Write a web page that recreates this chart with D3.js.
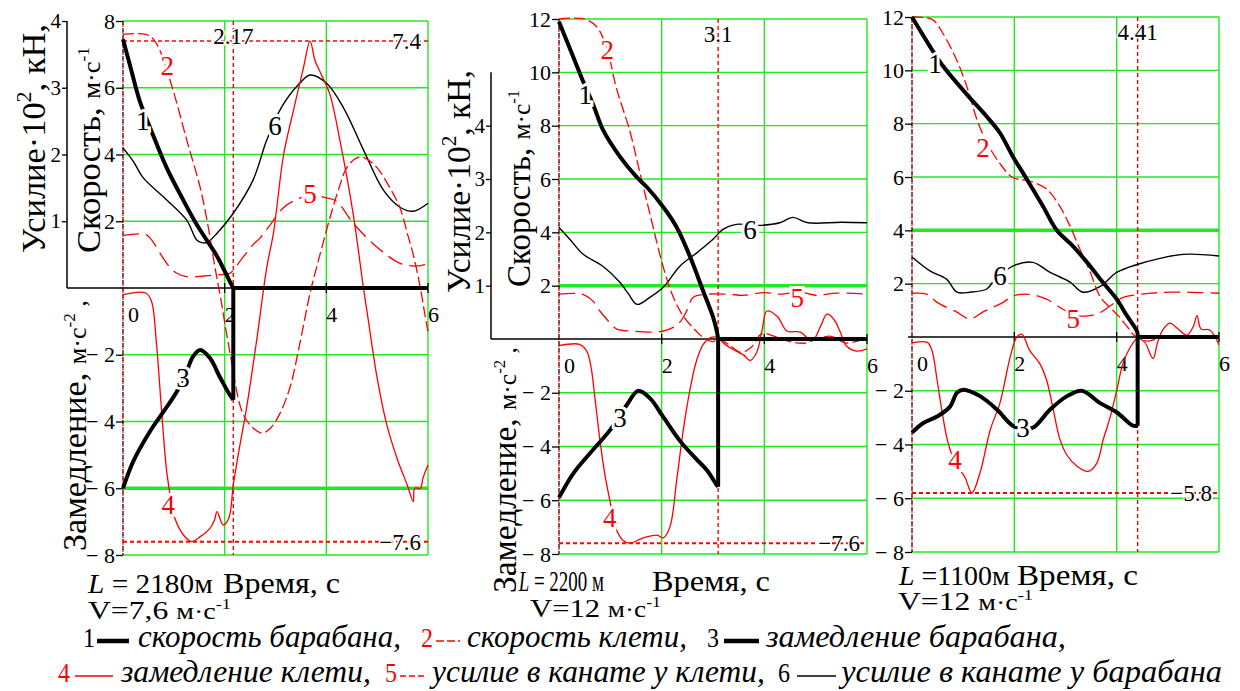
<!DOCTYPE html>
<html>
<head>
<meta charset="utf-8">
<script src="https://cdn.jsdelivr.net/npm/d3@7"></script>
<style>
  html, body { margin: 0; padding: 0; background: #fff; }
  svg { display: block; font-family: "Liberation Serif", "Times New Roman", serif; }
</style>
</head>
<body>
<svg id="chart" width="1240" height="691"></svg>
<script>
// ---------- shared ticks ----------
const timeTicks = [2, 4, 6];
const timeLabels = [0, 2, 4, 6];
const forceTicks = [1, 2, 3, 4];
const speedTicks1 = [-8, -6, -4, -2, 2, 4, 6, 8];
const speedTicks2 = [-8, -6, -4, -2, 2, 4, 6, 8, 10, 12];

// ---------- plot 1: L = 2180 m, V = 7.6 m/s ----------
// [time s, value]; speeds m/s, decelerations m/s², forces ×10² kN
const drumSpeed1 = [[0,7.45],[0.15,6.6],[0.33,5.6],[0.56,4.7],[0.86,3.6],[1.18,2.65],[1.45,1.9],[1.64,1.45],[1.85,0.95],[1.97,0.6],[2.1,0.2],[2.17,0],[6,0]];
const cageSpeed1 = [[0,7.6],[0.45,7.6],[0.6,7.45],[0.73,7.1],[0.99,5.9],[1.26,4.4],[1.52,3.0],[1.68,1.8],[1.8,0.7],[1.92,-0.3],[2.1,-1.9],[2.34,-3.7],[2.5,-4.1],[2.73,-4.35],[2.9,-4.2],[3.09,-3.75],[3.29,-2.95],[3.48,-1.65],[3.68,-0.15],[3.81,0.63],[3.91,1.2],[4.07,2.1],[4.25,3.0],[4.4,3.6],[4.6,3.9],[4.75,3.9],[5.0,3.6],[5.25,3.0],[5.45,2.4],[5.6,1.6],[5.71,1.0],[5.85,0.0],[5.95,-0.9],[6.0,-1.3]];
const drumDecel1 = [[0,-6.0],[0.2,-5.2],[0.53,-4.3],[0.8,-3.7],[1.06,-3.1],[1.25,-2.5],[1.38,-2.05],[1.52,-1.86],[1.71,-2.1],[1.9,-2.65],[2.1,-3.2],[2.17,-3.35],[2.17,0],[6,0]];
const cageDecel1 = [[0,-0.2],[0.45,-0.15],[0.56,-0.4],[0.66,-1.7],[0.76,-3.7],[0.86,-5.5],[0.95,-6.4],[1.02,-6.9],[1.19,-7.4],[1.35,-7.6],[1.52,-7.45],[1.71,-7.2],[1.8,-6.95],[1.85,-6.7],[1.97,-7.1],[2.08,-6.9],[2.17,-5.9],[2.26,-5.05],[2.43,-3.6],[2.63,-1.56],[2.83,0.63],[2.96,1.65],[3.16,4.0],[3.35,5.3],[3.55,6.6],[3.68,7.4],[3.78,6.8],[3.9,6.4],[4.07,5.8],[4.27,4.4],[4.53,2.2],[4.73,0],[4.8,-0.7],[5.0,-2.7],[5.19,-4.1],[5.39,-5.1],[5.59,-5.9],[5.71,-6.4],[5.74,-6.0],[5.85,-6.0],[5.9,-5.7],[6.0,-5.3]];
const cageRope1 = [[0,0.79],[0.45,0.8],[0.6,0.68],[0.73,0.52],[0.9,0.33],[1.06,0.22],[1.25,0.17],[1.6,0.18],[1.9,0.2],[2.1,0.22],[2.3,0.4],[2.56,0.65],[2.7,0.75],[2.9,0.95],[3.15,1.2],[3.4,1.32],[3.68,1.39],[4.0,1.35],[4.2,1.3],[4.53,0.97],[5.0,0.61],[5.45,0.37],[5.8,0.33],[6.0,0.37]];
const drumRope1 = [[0,2.1],[0.2,1.9],[0.4,1.65],[0.86,1.32],[1.25,1.02],[1.45,0.72],[1.55,0.68],[1.65,0.68],[1.85,0.82],[2.17,1.12],[2.56,1.62],[2.83,2.22],[3.12,2.71],[3.48,3.07],[3.68,3.19],[4.0,3.07],[4.33,2.71],[4.73,2.07],[5.12,1.47],[5.45,1.21],[5.71,1.15],[6.0,1.27]];
const stopTime1 = 2.17;
const extremes1 = [7.4, -7.6];

// ---------- plot 2: L = 2200 m, V = 12 m/s ----------
const drumSpeed2 = [[0,11.9],[0.21,10.9],[0.44,9.8],[0.67,8.77],[0.86,7.83],[1.19,6.83],[1.51,6.08],[1.71,5.7],[2.03,4.95],[2.29,4.2],[2.55,3.1],[2.8,1.84],[3.0,0.83],[3.08,0.24],[3.1,0],[6,0]];
const cageSpeed2 = [[0,12],[0.5,12],[0.74,11.7],[0.93,10.9],[1.12,9.4],[1.38,7.8],[1.58,6.2],[1.77,4.7],[2.03,2.7],[2.22,1.6],[2.42,0.86],[2.69,0.26],[2.85,0.0],[3.0,-0.1],[3.1,0.0],[3.3,-0.2],[3.55,-0.5],[3.75,-0.3],[3.95,0.2],[4.2,0.1],[4.5,-0.1],[4.8,-0.15],[5.0,0.0],[5.3,0.1],[5.6,-0.15],[6,0.05]];
const drumDecel2 = [[0,-5.9],[0.28,-5.0],[0.6,-4.26],[0.99,-3.4],[1.2,-2.8],[1.34,-2.4],[1.54,-1.93],[1.77,-2.2],[2.03,-2.9],[2.36,-3.8],[2.69,-4.5],[2.89,-4.9],[3.06,-5.4],[3.1,-5.5],[3.1,0],[6,0]];
const cageDecel2 = [[0,-0.25],[0.4,-0.2],[0.54,-0.45],[0.62,-1.0],[0.7,-2.2],[0.8,-3.8],[0.89,-5.0],[0.99,-6.0],[1.12,-7.1],[1.25,-7.5],[1.38,-7.6],[1.64,-7.4],[1.91,-7.3],[2.03,-7.4],[2.16,-7.0],[2.29,-5.3],[2.42,-3.4],[2.55,-1.9],[2.68,-0.8],[2.81,-0.2],[2.95,0.05],[3.1,0.05],[3.2,-0.15],[3.4,-0.4],[3.6,-0.6],[3.72,-0.8],[3.85,-0.5],[3.96,0.37],[4.05,1.05],[4.25,0.85],[4.44,0.3],[4.7,0.26],[4.93,-0.07],[5.1,0.5],[5.22,0.93],[5.35,0.75],[5.48,0.26],[5.6,-0.26],[5.8,-0.45],[6.0,-0.37]];
const cageRope2 = [[0,0.84],[0.45,0.84],[0.66,0.71],[0.8,0.52],[0.93,0.37],[1.12,0.19],[1.38,0.15],[2.03,0.15],[2.32,0.28],[2.5,0.55],[2.61,0.78],[2.88,0.84],[3.3,0.84],[3.6,0.82],[4.0,0.87],[4.3,0.84],[4.7,0.88],[5.0,0.82],[5.4,0.86],[6.0,0.84]];
const drumRope2 = [[0,2.09],[0.21,1.87],[0.47,1.59],[0.86,1.36],[1.19,1.06],[1.35,0.85],[1.52,0.65],[1.77,0.78],[2.03,0.97],[2.36,1.37],[2.69,1.62],[3.0,1.87],[3.2,2.06],[3.45,2.15],[3.9,2.13],[4.3,2.18],[4.55,2.28],[4.85,2.18],[5.5,2.19],[6.0,2.18]];
const stopTime2 = 3.1;
const extremes2 = [-7.6];

// ---------- plot 3: L = 1100 m, V = 12 m/s ----------
const drumSpeed3 = [[0,12],[0.35,10.9],[0.59,10.2],[1.07,9.1],[1.46,8.27],[1.72,7.65],[1.97,6.77],[2.25,5.9],[2.56,4.9],[2.83,4.0],[3.15,3.4],[3.42,2.8],[3.73,2.05],[4.0,1.42],[4.2,0.8],[4.4,0.2],[4.41,0],[6,0]];
const cageSpeed3 = [[0,12],[0.4,11.9],[0.6,11.4],[0.87,10.4],[1.07,9.4],[1.27,8.15],[1.46,7.3],[1.72,6.5],[1.97,5.98],[2.3,5.85],[2.63,5.55],[2.89,4.9],[3.09,4.15],[3.28,3.3],[3.48,2.45],[3.68,1.5],[3.87,1.1],[4.03,0.8],[4.2,0.4],[4.35,0.05],[4.6,-0.15],[4.9,0.0],[5.2,0.05],[5.5,0.0],[6,0.0]];
const drumDecel3 = [[0,-3.56],[0.22,-3.2],[0.49,-2.96],[0.74,-2.6],[0.88,-2.07],[1.0,-1.96],[1.33,-2.2],[1.66,-2.7],[1.97,-3.3],[2.2,-3.4],[2.37,-3.37],[2.7,-2.7],[3.03,-2.2],[3.32,-2.0],[3.67,-2.45],[4.0,-2.8],[4.32,-3.3],[4.41,-3.3],[4.41,0],[6,0]];
const cageDecel3 = [[0,-0.22],[0.3,-0.2],[0.39,-0.5],[0.49,-1.6],[0.59,-2.8],[0.7,-3.9],[0.85,-4.7],[1.03,-5.2],[1.17,-5.8],[1.33,-5.05],[1.53,-3.45],[1.72,-2.45],[1.92,-0.74],[2.05,0.0],[2.15,0.1],[2.3,-0.5],[2.5,-1.0],[2.63,-1.6],[2.75,-2.6],[2.89,-3.8],[3.03,-4.4],[3.22,-4.8],[3.44,-5.0],[3.61,-4.7],[3.74,-3.8],[3.87,-3.0],[4.0,-2.0],[4.12,-1.0],[4.26,-0.4],[4.41,-0.05],[4.55,-0.2],[4.71,-0.8],[4.8,-0.2],[4.9,0.26],[5.04,0.52],[5.2,0.3],[5.37,0.07],[5.5,0.4],[5.57,0.8],[5.65,0.3],[5.82,0.26],[6.0,-0.3]];
const cageRope3 = [[0,0.82],[0.3,0.8],[0.49,0.65],[0.87,0.47],[1.13,0.34],[1.39,0.47],[1.78,0.65],[1.97,0.77],[2.3,0.8],[2.63,0.71],[2.95,0.52],[3.22,0.4],[3.61,0.43],[3.87,0.58],[4.12,0.74],[4.46,0.8],[5.04,0.84],[6.0,0.82]];
const drumRope3 = [[0,1.5],[0.35,1.24],[0.68,1.08],[0.88,0.84],[1.13,0.84],[1.46,0.9],[1.6,1.05],[1.97,1.33],[2.36,1.4],[2.7,1.21],[3.09,1.03],[3.34,0.84],[3.68,0.95],[4.0,1.21],[4.4,1.36],[4.79,1.46],[5.3,1.55],[6.0,1.52]];
const stopTime3 = 4.41;
const extremes3 = [-5.8];

// curve number tags: [number, time, value]
const tags1 = [["1",0.39,5.03],["2",0.87,6.68],["6",2.99,4.88],["5",3.68,2.84],["3",1.18,-2.69],["4",0.89,-6.5]];
const tags2 = [["1",0.51,9.15],["2",0.94,10.84],["6",3.72,4.09],["5",4.64,1.54],["3",1.19,-2.94],["4",0.99,-6.65]];
const tags3 = [["1",0.45,10.27],["2",1.39,7.12],["6",1.72,2.32],["5",3.15,0.71],["3",2.17,-3.38],["4",0.84,-4.57]];

// ---------- styling ----------
const GREEN = "#22e822";
const RED = "#ff0000";
const MINUS = "\u2212";

const svg = d3.select("#chart");

const panels = [
  { xRange: [123, 428], yDomain: [-8, 0, 8], yRange: [555, 288, 21], speedTicks: speedTicks1,
    thickLevel: -6, forceX: 67, forceTop: 4, baseStart: 67,
    series: { drumSpeed: drumSpeed1, cageSpeed: cageSpeed1, drumDecel: drumDecel1, cageDecel: cageDecel1, cageRope: cageRope1, drumRope: drumRope1 },
    stop: stopTime1, extremes: extremes1, tags: tags1 },
  { xRange: [559, 867], yDomain: [-8, 0, 12], yRange: [554, 339, 19], speedTicks: speedTicks2,
    thickLevel: 2, forceX: 491, forceTop: 5, baseStart: 491,
    series: { drumSpeed: drumSpeed2, cageSpeed: cageSpeed2, drumDecel: drumDecel2, cageDecel: cageDecel2, cageRope: cageRope2, drumRope: drumRope2 },
    stop: stopTime2, extremes: extremes2, tags: tags2 },
  { xRange: [912, 1219], yDomain: [-8, 0, 12], yRange: [552, 337, 17], speedTicks: speedTicks2,
    thickLevel: 4, forceX: null, forceTop: null, baseStart: 908,
    series: { drumSpeed: drumSpeed3, cageSpeed: cageSpeed3, drumDecel: drumDecel3, cageDecel: cageDecel3, cageRope: cageRope3, drumRope: drumRope3 },
    stop: stopTime3, extremes: extremes3, tags: tags3 }
];

const fmtSigned = d => d < 0 ? MINUS + " " + (-d) : String(d);
const fmtMark = d => d < 0 ? MINUS + (-d) : String(d);

// Split a drum series into its smooth braking part and the straight
// part after the drum has stopped (a possible jump plus the flat zero tail).
function splitAtStop(data) {
  let k = data.length - 1;
  while (k > 0 && data[k - 1][1] === 0) k--;
  if (k > 0 && data[k - 1][0] === data[k][0]) {
    return [data.slice(0, k), data.slice(k - 1)];
  }
  return [data.slice(0, k + 1), data.slice(k)];
}

function drawPanel(cfg) {
  const g = svg.append("g");
  const x = d3.scaleLinear().domain([0, 6]).range(cfg.xRange);
  const y = d3.scaleLinear().domain(cfg.yDomain).range(cfg.yRange);
  const vMax = cfg.yDomain[2];
  // rope forces (×10² kN) are plotted against the speed scale at 1 : 2
  const yF = d3.scaleLinear().domain([0, vMax / 2]).range([y(0), y(vMax)]);
  const x0 = x(0), x6 = x(6), yTop = y(vMax), yBot = y(-8);

  // green grid
  g.selectAll("line.hgrid").data(cfg.speedTicks).join("line")
    .attr("x1", x0).attr("x2", x6).attr("y1", d => y(d)).attr("y2", d => y(d))
    .attr("stroke", GREEN).attr("stroke-width", d => d === cfg.thickLevel ? 3.5 : 1.4);
  g.selectAll("line.vgrid").data(timeTicks).join("line")
    .attr("x1", d => x(d)).attr("x2", d => x(d)).attr("y1", yTop).attr("y2", yBot)
    .attr("stroke", GREEN).attr("stroke-width", 1.4);

  // left border: t = 0 marker
  g.append("line").attr("x1", x0).attr("x2", x0).attr("y1", yTop).attr("y2", yBot)
    .attr("stroke", "#000").attr("stroke-width", 1.2).attr("stroke-dasharray", "4,3");
  g.append("line").attr("x1", x0).attr("x2", x0).attr("y1", yTop).attr("y2", yBot)
    .attr("stroke", RED).attr("stroke-width", 1.2).attr("stroke-dasharray", "3,4").attr("stroke-dashoffset", 4);

  // red markers: stop time and extreme values
  g.append("line").attr("x1", x(cfg.stop)).attr("x2", x(cfg.stop)).attr("y1", yTop).attr("y2", yBot)
    .attr("stroke", RED).attr("stroke-width", 1.4).attr("stroke-dasharray", "4,3");
  g.selectAll("line.ext").data(cfg.extremes).join("line")
    .attr("x1", x0).attr("x2", x6).attr("y1", d => y(d)).attr("y2", d => y(d))
    .attr("stroke", RED).attr("stroke-width", d => d < 0 ? 2 : 1.4).attr("stroke-dasharray", "4,3");

  // zero line with small time ticks, and force axis
  g.append("line").attr("x1", cfg.baseStart).attr("x2", x6).attr("y1", y(0)).attr("y2", y(0))
    .attr("stroke", "#000").attr("stroke-width", 1.5);
  g.selectAll("line.tt").data(timeTicks).join("line")
    .attr("x1", d => x(d)).attr("x2", d => x(d)).attr("y1", y(0) - 5).attr("y2", y(0) + 5)
    .attr("stroke", "#000").attr("stroke-width", 1.3);

  if (cfg.forceX !== null) {
    g.append("line").attr("x1", cfg.forceX).attr("x2", cfg.forceX)
      .attr("y1", yF(cfg.forceTop)).attr("y2", y(0))
      .attr("stroke", "#000").attr("stroke-width", 1.5);
    const fa = g.append("g").attr("transform", `translate(${cfg.forceX},0)`)
      .call(d3.axisLeft(yF).tickValues(forceTicks).tickSize(5).tickPadding(1).tickFormat(d3.format("d")));
    fa.select(".domain").remove();
    fa.selectAll("line").attr("stroke", "#000").attr("stroke-width", 1.3);
    fa.selectAll("text").attr("font-size", 21).attr("fill", "#000")
      .attr("font-family", "Liberation Serif");
  }

  // speed / deceleration axis
  const va = g.append("g").attr("transform", `translate(${x0},0)`)
    .call(d3.axisLeft(y).tickValues(cfg.speedTicks).tickSize(7).tickPadding(1).tickFormat(fmtSigned));
  va.select(".domain").remove();
  va.selectAll("line").attr("stroke", "#000").attr("stroke-width", 1.3);
  va.selectAll("text").attr("font-size", 22).attr("fill", "#000")
    .attr("font-family", "Liberation Serif");

  // time labels under the zero line
  g.selectAll("text.tl").data(timeLabels).join("text")
    .attr("x", d => x(d) + (d === 0 ? 5 : 0)).attr("y", y(0) + 34)
    .attr("font-size", 22).text(d => d);

  // curves
  const smooth = d3.curveCatmullRom.alpha(0.5);
  const lineV = d3.line().x(d => x(d[0])).y(d => y(d[1])).curve(smooth);
  const lineF = d3.line().x(d => x(d[0])).y(d => yF(d[1])).curve(smooth);
  const lineStraight = d3.line().x(d => x(d[0])).y(d => y(d[1]));
  const s = cfg.series;
  const draw = (data, gen, color, width, dash) => g.append("path").datum(data)
    .attr("d", gen).attr("fill", "none").attr("stroke", color).attr("stroke-width", width)
    .attr("stroke-dasharray", dash).attr("stroke-linejoin", "round");
  draw(s.cageRope, lineF, RED, 1.3, "16,7");
  draw(s.drumRope, lineF, "#000", 1.4, null);
  draw(s.cageSpeed, lineV, RED, 1.3, "11,4");
  draw(s.cageDecel, lineV, RED, 1.3, null);
  [s.drumSpeed, s.drumDecel].forEach(series => {
    const [braking, stopped] = splitAtStop(series);
    draw(braking, lineV, "#000", 4, null);
    draw(stopped, lineStraight, "#000", 4, null);
  });

  // curve number tags with a white halo
  g.selectAll("text.tag").data(cfg.tags).join("text")
    .attr("x", d => x(d[1])).attr("y", d => y(d[2])).attr("dy", "0.35em")
    .attr("text-anchor", "middle").attr("font-size", 27)
    .attr("fill", d => ["2", "4", "5"].includes(d[0]) ? RED : "#000")
    .attr("stroke", "#fff").attr("stroke-width", 6).attr("paint-order", "stroke")
    .text(d => d[0]);

  // marker value labels
  g.append("text").attr("x", x(cfg.stop)).attr("y", yTop + 23).attr("text-anchor", "middle")
    .attr("font-size", 23).attr("stroke", "#fff").attr("stroke-width", 3).attr("paint-order", "stroke")
    .text(cfg.stop);
  g.selectAll("text.ev").data(cfg.extremes).join("text")
    .attr("x", x6 - 7).attr("y", d => y(d) + 8).attr("text-anchor", "end")
    .attr("font-size", 23).attr("stroke", "#fff").attr("stroke-width", 3).attr("paint-order", "stroke")
    .text(fmtMark);
}

panels.forEach(drawPanel);

// ---------- text helpers ----------
function addParts(text, parts) {
  parts.forEach(p => {
    const t = text.append("tspan").attr("font-size", p.size).text(p.t);
    if (p.dy) t.attr("dy", p.dy);
    if (p.italic) t.attr("font-style", "italic");
    if (p.fill) t.attr("fill", p.fill);
  });
}
// horizontal text squeezed or stretched to span [xa, xb] on baseline yb
function hText(parts, xa, xb, yb, opts = {}) {
  const g = svg.append("g");
  const t = g.append("text").attr("x", 0).attr("y", 0);
  if (opts.italic) t.attr("font-style", "italic");
  if (opts.fill) t.attr("fill", opts.fill);
  addParts(t, parts);
  const bb = t.node().getBBox();
  const sx = (xb - xa) / bb.width;
  g.attr("transform", `translate(${xa - bb.x * sx},${yb}) scale(${sx},1)`);
}
// vertical (bottom-to-top) text from y0 up to y1 with baseline at bx
function vText(parts, bx, y0, y1, stretch) {
  const g = svg.append("g");
  const t = g.append("text").attr("x", 0).attr("y", 0);
  addParts(t, parts);
  const bb = t.node().getBBox();
  const sx = (y0 - y1) / bb.width;
  g.attr("transform", `translate(${bx},${y0}) rotate(-90) scale(${sx},${stretch}) translate(${-bb.x},0)`);
}

// ---------- axis titles ----------
const forceTitle = [{t: "Усилие·10", size: 30}, {t: "2", size: 19, dy: -12}, {t: ", кН,", size: 30, dy: 12}];
const speedTitle = [{t: "Скорость, ", size: 30}, {t: "м·с", size: 23}, {t: "-1", size: 15, dy: -10}];
const decelTitle = [{t: "Замедление, ", size: 30}, {t: "м·с", size: 23}, {t: "-2", size: 15, dy: -10}, {t: " ,", size: 23, dy: 10}];

vText(forceTitle, 45, 253, 24, 1.15);
vText(speedTitle, 100, 253, 47, 1.1);
vText(decelTitle, 86, 551, 300, 1.1);

vText(forceTitle, 470, 293, 70, 1.15);
vText(speedTitle, 530, 287, 90, 1.1);
vText(decelTitle, 516, 593, 347, 1.1);

// ---------- run parameters under each plot ----------
const unitParts = (v) => [{t: "V=" + v + " ", size: 26}, {t: "м·с", size: 23}, {t: "-1", size: 15, dy: -10}];

hText([{t: "L", size: 28, italic: true}, {t: " = 2180м", size: 28}], 87, 213, 593);
hText([{t: "Время, с", size: 30}], 223, 340, 593);
hText(unitParts("7,6"), 88, 231, 619);

hText([{t: "L", size: 29, italic: true}, {t: " = 2200 м", size: 29}], 518, 604, 591);
hText([{t: "Время, с", size: 30}], 652, 770, 591);
hText(unitParts("12"), 530, 661, 617);

hText([{t: "L", size: 28, italic: true}, {t: " =1100м", size: 28}], 898, 1010, 585);
hText([{t: "Время, с", size: 30}], 1017, 1138, 585);
hText(unitParts("12"), 898, 1033, 610);

// ---------- legend ----------
const legendRows = [
  { base: 647, mid: 641, items: [
    { num: "1", nx: [83, 95], color: "#000", line: [97, 129], width: 4.5, dash: null, label: "скорость барабана,", lx: [138, 401] },
    { num: "2", nx: [421, 433], color: RED, line: [436, 460], width: 1.6, dash: "8,3", label: "скорость клети,", lx: [467, 687] },
    { num: "3", nx: [707, 719], color: "#000", line: [724, 759], width: 4.5, dash: null, label: "замедление барабана,", lx: [765, 1066] } ] },
  { base: 682, mid: 676, items: [
    { num: "4", nx: [58, 70], color: RED, line: [75, 113], width: 1.6, dash: null, label: "замедление клети,", lx: [120, 371] },
    { num: "5", nx: [385, 397], color: RED, line: [400, 426], width: 1.6, dash: "6,3", label: "усилие в канате у клети,", lx: [429, 765] },
    { num: "6", nx: [778, 790], color: "#000", line: [797, 836], width: 1.6, dash: null, label: "усилие в канате у барабана", lx: [838, 1222] } ] }
];
legendRows.forEach(row => {
  row.items.forEach(it => {
    hText([{t: it.num, size: 28}], it.nx[0], it.nx[1], row.base, { fill: it.color });
    svg.append("line").attr("x1", it.line[0]).attr("x2", it.line[1]).attr("y1", row.mid).attr("y2", row.mid)
      .attr("stroke", it.color).attr("stroke-width", it.width).attr("stroke-dasharray", it.dash);
    hText([{t: it.label, size: 31}], it.lx[0], it.lx[1], row.base, { italic: true });
  });
});
</script>
</body>
</html>
